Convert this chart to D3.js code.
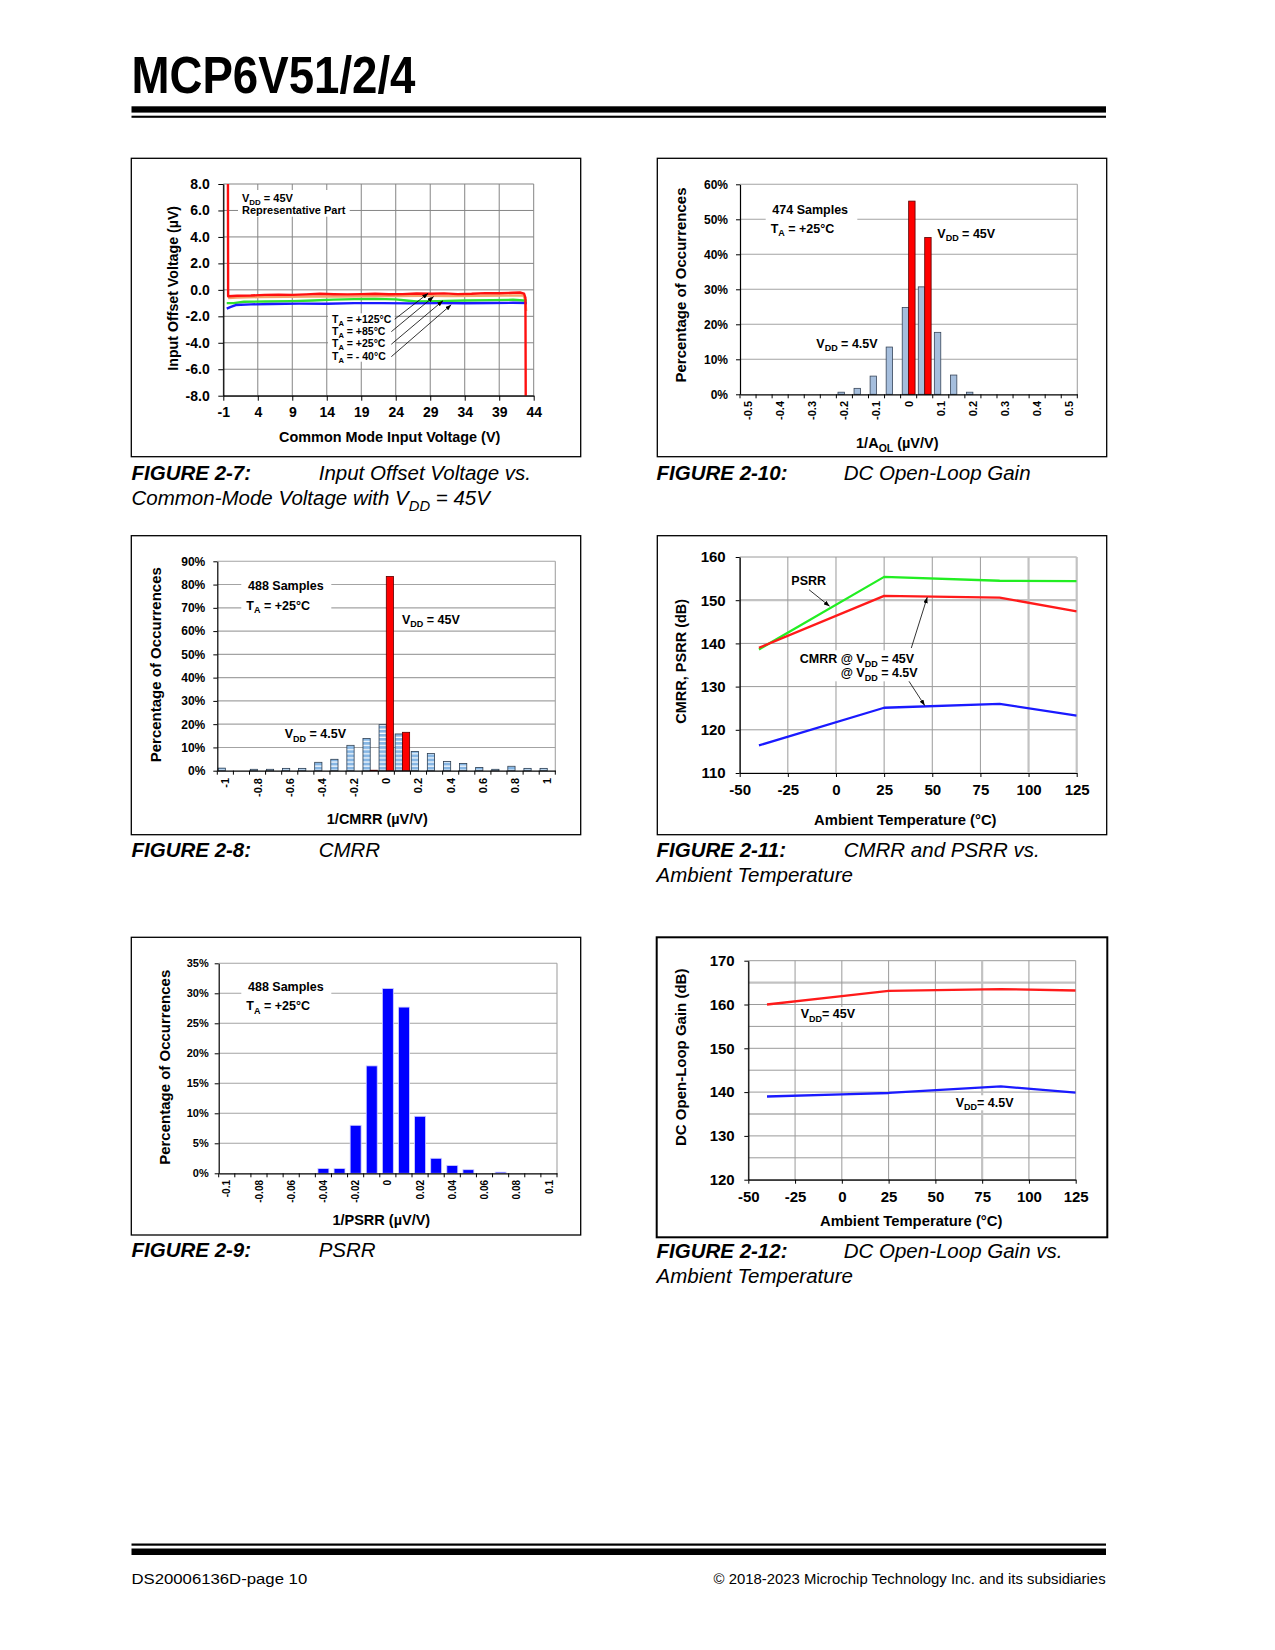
<!DOCTYPE html>
<html><head><meta charset="utf-8">
<script src="https://cdn.jsdelivr.net/npm/d3@7"></script>
<style>body{margin:0;background:#fff}svg{display:block}text{font-family:"Liberation Sans",Arial,sans-serif}</style>
</head><body><svg id="page" width="1275" height="1650"></svg>
<script>
// ================= DATA =================
// Figure 2-7: Input offset voltage vs common mode input voltage  [Vcm (V), Vos (uV)]
const vosXTicks = [-1, 4, 9, 14, 19, 24, 29, 34, 39, 44];
const vosYTicks = [-8, -6, -4, -2, 0, 2, 4, 6, 8];
const vos125 = [[-0.33,9],[-0.3,-0.48],[1,-0.45],[3,-0.43],[5,-0.38],[7,-0.36],[9,-0.38],[11,-0.34],[13,-0.3],[15,-0.33],[17,-0.34],[19,-0.32],[21,-0.3],[23,-0.33],[25,-0.32],[27,-0.28],[29,-0.3],[31,-0.27],[33,-0.32],[35,-0.3],[37,-0.25],[39,-0.26],[41,-0.22],[42,-0.2],[42.6,-0.28],[42.8,-0.6],[42.85,-9]];
const vos85  = [[-0.3,-0.62],[1,-0.58],[4,-0.55],[8,-0.52],[12,-0.5],[16,-0.5],[20,-0.48],[24,-0.46],[28,-0.45],[32,-0.47],[36,-0.45],[40,-0.43],[42.5,-0.42],[42.8,-0.8],[42.9,-1.6]];
const vos25  = [[-0.5,-1.0],[0.5,-1.0],[2,-0.9],[5,-0.88],[9,-0.85],[12,-0.8],[15,-0.74],[18,-0.7],[21,-0.68],[24,-0.72],[25.5,-0.8],[27,-0.88],[30,-0.85],[34,-0.8],[38,-0.78],[41,-0.75],[43,-0.82]];
const vosM40 = [[-0.5,-1.42],[0,-1.3],[0.8,-1.15],[3,-1.1],[6,-1.07],[10,-1.04],[14,-1.05],[18,-1.0],[22,-1.0],[26,-1.02],[30,-1.0],[34,-1.01],[38,-0.99],[41,-0.98],[43,-1.0]];
const vosLabels = ["+125°C", "+85°C", "+25°C", "- 40°C"];
const vosArrowTips = [[28.7,-0.26],[29.5,-0.51],[30.85,-0.82],[32.05,-1.12]];
const vosArrowTails = [[23.85,-2.22],[23.36,-3.16],[23.36,-4.11],[23.36,-5.05]];

// Figure 2-10: DC open-loop gain histogram (1/AOL, uV/V) in %
const aolBins = ["-0.5","-0.45","-0.4","-0.35","-0.3","-0.25","-0.2","-0.15","-0.1","-0.05","0","0.05","0.1","0.15","0.2","0.25","0.3","0.35","0.4","0.45","0.5"];
const aolLabels = ["-0.5","-0.4","-0.3","-0.2","-0.1","0","0.1","0.2","0.3","0.4","0.5"];
const aolVdd4p5 = [0,0,0,0,0,0,0.6,1.7,5.2,13.5,24.8,30.7,17.7,5.5,0.6,0,0,0,0,0,0];
const aolVdd45  = [0,0,0,0,0,0,0,0,0,0,55.2,44.8,0,0,0,0,0,0,0,0,0];
const aolYTicks = [0,10,20,30,40,50,60];

// Figure 2-8: CMRR histogram (1/CMRR, uV/V) in %
const cmrrBins = ["-1","-0.9","-0.8","-0.7","-0.6","-0.5","-0.4","-0.3","-0.2","-0.1","0","0.1","0.2","0.3","0.4","0.5","0.6","0.7","0.8","0.9","1"];
const cmrrLabels = ["-1","-0.8","-0.6","-0.4","-0.2","0","0.2","0.4","0.6","0.8","1"];
const cmrrVdd4p5 = [1.1,0,0.6,0.6,1.0,1.0,3.6,4.9,10.9,13.8,19.8,15.8,8.3,7.4,4.0,3.1,1.4,0.6,1.9,1.0,1.0];
const cmrrVdd45  = [0,0,0,0,0,0,0,0,0,0.2,83.5,16.5,0,0,0,0,0,0,0,0,0];
const cmrrYTicks = [0,10,20,30,40,50,60,70,80,90];

// Figure 2-9: PSRR histogram (1/PSRR, uV/V) in %
const psrrBins = ["-0.1","-0.09","-0.08","-0.07","-0.06","-0.05","-0.04","-0.03","-0.02","-0.01","0","0.01","0.02","0.03","0.04","0.05","0.06","0.07","0.08","0.09","0.1"];
const psrrLabels = ["-0.1","-0.08","-0.06","-0.04","-0.02","0","0.02","0.04","0.06","0.08","0.1"];
const psrrValues = [0,0,0,0,0,0,0.8,0.8,8.0,17.9,30.8,27.7,9.5,2.5,1.3,0.6,0,0.2,0,0,0];
const psrrYTicks = [0,5,10,15,20,25,30,35];

// Figure 2-11: CMRR and PSRR vs ambient temperature (dB)
const rrTemps   = [-40, 25, 85, 125];
const rrPsrr    = [138.6, 155.4, 154.5, 154.4];
const rrCmrr45  = [139.0, 151.0, 150.6, 147.4];
const rrCmrr4p5 = [116.4, 125.1, 126.0, 123.3];
const rrXTicks  = [-50, -25, 0, 25, 50, 75, 100, 125];
const rrYTicks  = [110, 120, 130, 140, 150, 160];

// Figure 2-12: DC open-loop gain vs ambient temperature (dB)
const aolTemps   = [-40, 0, 25, 85, 125];
const aolT45     = [160.0, 161.9, 163.1, 163.5, 163.2];
const aolT4p5    = [139.0, 139.5, 139.8, 141.3, 139.9];
const aolTXTicks = [-50, -25, 0, 25, 50, 75, 100, 125];
const aolTYTicks = [120, 130, 140, 150, 160, 170];
const aolTYGrid  = [120, 125, 130, 135, 140, 145, 150, 155, 160, 165, 170];

// ================= RENDER =================
const FONT = "'Liberation Sans', Arial, sans-serif";
const page = d3.select("#page");
const defs = page.append("defs");
defs.append("marker").attr("id","arrow").attr("viewBox","0 0 8 6").attr("refX",8).attr("refY",3)
  .attr("markerWidth",6).attr("markerHeight",4.5).attr("markerUnits","userSpaceOnUse").attr("orient","auto")
  .append("path").attr("d","M0,0L8,3L0,6Z").attr("fill","#000");
const stripe = defs.append("pattern").attr("id","stripe").attr("width",6).attr("height",4.1)
  .attr("patternUnits","userSpaceOnUse");
stripe.append("rect").attr("width",6).attr("height",4.1).attr("fill","#86b6e4");
stripe.append("rect").attr("y",2.9).attr("width",6).attr("height",1.2).attr("fill","#ffffff");

function rich(g, x, y, parts, o = {}) {
  const size = o.size || 12;
  const t = g.append("text").attr("x", x).attr("y", y)
    .attr("font-size", size).attr("font-weight", o.weight || "bold")
    .attr("font-style", o.style || "normal")
    .attr("text-anchor", o.anchor || "start").attr("fill", "#000").style("font-family", FONT);
  if (o.transform) t.attr("transform", o.transform);
  if (o.len) t.attr("textLength", o.len).attr("lengthAdjust", "spacingAndGlyphs");
  let shifted = false;
  parts.forEach(p => {
    const isSub = typeof p === "object";
    const s = t.append("tspan").text(isSub ? p.sub : p);
    if (isSub) { s.attr("font-size", size * 0.72).attr("dy", size * 0.28); shifted = true; }
    else if (shifted) { s.attr("dy", -size * 0.28); shifted = false; }
  });
  return t;
}
function whiteBox(x, y, w, h) {
  page.append("rect").attr("x", x).attr("y", y).attr("width", w).attr("height", h).attr("fill", "#fff");
}
function frame(b, sw) {
  page.append("rect").attr("x", b.x).attr("y", b.y).attr("width", b.w).attr("height", b.h)
    .attr("fill", "none").attr("stroke", "#000").attr("stroke-width", sw || 1.3);
}
function styleAxis(sel, fs) {
  sel.attr("font-family", null).attr("font-size", null);
  sel.select(".domain").attr("stroke", "#000").attr("stroke-width", 1.2);
  sel.selectAll(".tick line").attr("stroke", "#000").attr("stroke-width", 1);
  sel.selectAll(".tick text").attr("font-size", fs).attr("font-weight", "bold").attr("fill", "#000").style("font-family", FONT);
}
function titles(c) {
  rich(page, c.xt.x, c.xt.y, c.xt.parts, { size: c.xt.size, anchor: "middle" });
  rich(page, 0, 0, c.yt.parts, { size: c.yt.size, anchor: "middle", transform: `translate(${c.yt.x},${c.yt.y}) rotate(-90)` });
}

function lineChart(c) {
  frame(c.box, c.boxW);
  const g = page.append("g");
  const x = d3.scaleLinear().domain(c.xDomain).range([c.p.l, c.p.r]);
  const y = d3.scaleLinear().domain(c.yDomain).range([c.p.b, c.p.t]);
  const yT = c.yThick || [], xT = c.xThick || [];
  g.append("g").selectAll("line").data(c.yGrid).join("line")
    .attr("x1", c.p.l).attr("x2", c.p.r).attr("y1", d => y(d)).attr("y2", d => y(d))
    .attr("stroke", d => yT.includes(d) ? "#c2c2c2" : c.grid).attr("stroke-width", d => yT.includes(d) ? 2.2 : 1);
  g.append("g").selectAll("line").data(c.xGrid).join("line")
    .attr("y1", c.p.t).attr("y2", c.p.b).attr("x1", d => x(d)).attr("x2", d => x(d))
    .attr("stroke", d => xT.includes(d) ? "#c2c2c2" : c.grid).attr("stroke-width", d => xT.includes(d) ? 2.2 : 1);
  const cid = "clip" + c.id;
  defs.append("clipPath").attr("id", cid).append("rect")
    .attr("x", c.p.l).attr("y", c.p.t).attr("width", c.p.r - c.p.l).attr("height", c.p.b - c.p.t);
  const line = d3.line().x(d => x(d[0])).y(d => y(d[1]));
  g.append("g").attr("clip-path", `url(#${cid})`).selectAll("path").data(c.series).join("path")
    .attr("d", s => line(s.data)).attr("fill", "none").attr("stroke", s => s.color)
    .attr("stroke-width", c.lw).attr("stroke-linejoin", "round");
  const fs = c.tickFont, tk = c.tick;
  const xa = d3.axisBottom(x).tickValues(c.xTicks).tickSizeInner(tk).tickSizeOuter(0)
    .tickPadding(c.xLabelBase - c.p.b - tk - 0.71 * fs).tickFormat(c.xFmt || (d => String(d)));
  g.append("g").attr("transform", `translate(0,${c.p.b})`).call(xa).call(styleAxis, fs);
  const ya = d3.axisLeft(y).tickValues(c.yTicks).tickSizeInner(tk).tickSizeOuter(0)
    .tickPadding(c.p.l - c.yLabelRight - tk).tickFormat(c.yFmt || (d => String(d)));
  g.append("g").attr("transform", `translate(${c.p.l},0)`).call(ya).call(styleAxis, fs);
  titles(c);
  return { x, y };
}

function histogram(c) {
  frame(c.box);
  const g = page.append("g");
  const x = d3.scaleBand().domain(c.bins).range([c.p.l, c.p.r]);
  const y = d3.scaleLinear().domain([0, c.yTicks[c.yTicks.length - 1]]).range([c.p.b, c.p.t]);
  g.append("g").selectAll("line").data(c.yTicks.slice(1)).join("line")
    .attr("x1", c.p.l).attr("x2", c.p.r).attr("y1", d => y(d)).attr("y2", d => y(d))
    .attr("stroke", "#a3a3a3").attr("stroke-width", 1.1);
  g.append("line").attr("x1", c.p.r).attr("x2", c.p.r).attr("y1", c.p.t).attr("y2", c.p.b)
    .attr("stroke", "#a3a3a3").attr("stroke-width", 1.1);
  const bw = x.bandwidth();
  const sub = d3.scaleBand().domain(c.series.map(s => s.name)).range(c.subRange.map(f => f * bw));
  c.series.forEach(s => {
    g.append("g").selectAll("rect")
      .data(c.bins.map((b, i) => ({ b, v: s.values[i] })).filter(d => d.v > 0)).join("rect")
      .attr("x", d => x(d.b) + sub(s.name)).attr("width", sub.bandwidth())
      .attr("y", d => y(d.v)).attr("height", d => y(0) - y(d.v))
      .attr("fill", s.fill).attr("stroke", s.stroke || "none").attr("stroke-width", 0.8);
  });
  const ya = d3.axisLeft(y).tickValues(c.yTicks).tickSizeInner(4).tickSizeOuter(0)
    .tickPadding(c.p.l - c.yLabelRight - 4).tickFormat(d => d + "%");
  g.append("g").attr("transform", `translate(${c.p.l},0)`).call(ya).call(styleAxis, c.yFont);
  const xa = d3.axisBottom(x).tickValues(c.labels).tickSize(0).tickFormat(d => d);
  const xg = g.append("g").attr("transform", `translate(0,${c.p.b})`).call(xa).call(styleAxis, c.xFont);
  xg.selectAll(".tick text").attr("y", 0).attr("x", -c.gap).attr("dy", "0.36em")
    .attr("transform", "rotate(-90)").attr("text-anchor", "end");
  const bounds = c.bins.map(b => x(b)).concat([x.range()[1]]);
  g.append("g").selectAll("line").data(bounds).join("line")
    .attr("x1", d => d).attr("x2", d => d).attr("y1", c.p.b).attr("y2", c.p.b + 4)
    .attr("stroke", "#000");
  titles(c);
  return { x, y };
}

// ---- Header ----
rich(page, 131.5, 92.6, ["MCP6V51/2/4"], { size: 51, len: 284 });
page.append("rect").attr("x", 131.5).attr("y", 106.3).attr("width", 974.5).attr("height", 6.3).attr("fill", "#000");
page.append("rect").attr("x", 131.5).attr("y", 115.7).attr("width", 974.5).attr("height", 2.1).attr("fill", "#000");

// ---- Figure 2-7 ----
const f7 = lineChart({
  id: "f7", box: { x: 131.3, y: 158.3, w: 449.4, h: 298.4 },
  p: { l: 223.3, r: 533.7, t: 184, b: 395.7 },
  xDomain: [-1, 44], yDomain: [-8, 8], xTicks: vosXTicks, yTicks: vosYTicks,
  xGrid: vosXTicks, yGrid: vosYTicks, grid: "#858585", lw: 2.4, tick: 5, tickFont: 14,
  xLabelBase: 417.3, yLabelRight: 209.7, yFmt: d => d.toFixed(1),
  series: [
    { color: "#f5a46c", data: vos85 },
    { color: "#2fe02f", data: vos25 },
    { color: "#1a1aff", data: vosM40 },
    { color: "#ff1010", data: vos125 }
  ],
  xt: { x: 389.7, y: 441.7, size: 14.4, parts: ["Common Mode Input Voltage (V)"] },
  yt: { x: 178, y: 288.3, size: 14.2, parts: ["Input Offset Voltage (µV)"] }
});
whiteBox(238, 190, 111.7, 26.7);
rich(page, 242, 201.5, ["V", { sub: "DD" }, " = 45V"], { size: 11 });
rich(page, 242, 214, ["Representative Part"], { size: 11 });
whiteBox(328, 313.3, 66.7, 48.4);
vosLabels.forEach((t, i) => rich(page, 332, 322.7 + i * 12.33, ["T", { sub: "A" }, " = " + t], { size: 10.5 }));
page.append("g").selectAll("line").data(d3.zip(vosArrowTails, vosArrowTips)).join("line")
  .attr("x1", d => f7.x(d[0][0])).attr("y1", d => f7.y(d[0][1]))
  .attr("x2", d => f7.x(d[1][0])).attr("y2", d => f7.y(d[1][1]))
  .attr("stroke", "#000").attr("stroke-width", 0.8).attr("marker-end", "url(#arrow)");

// ---- Figure 2-10 ----
histogram({
  box: { x: 657.3, y: 158.3, w: 449.4, h: 298.4 },
  p: { l: 740, r: 1077.3, t: 184.3, b: 394.3 },
  bins: aolBins, labels: aolLabels, yTicks: aolYTicks, yLabelRight: 728, yFont: 12, xFont: 11, gap: 6.7,
  subRange: [0.1, 0.9],
  series: [
    { name: "4.5", values: aolVdd4p5, fill: "#a5bedd", stroke: "#38465a" },
    { name: "45", values: aolVdd45, fill: "#ff0000", stroke: "#5a0000" }
  ],
  xt: { x: 897.3, y: 448.3, size: 14.5, parts: ["1/A", { sub: "OL" }, " (µV/V)"] },
  yt: { x: 686.3, y: 285, size: 15, parts: ["Percentage of Occurrences"] }
});
whiteBox(765.7, 201.7, 91.6, 38.3);
rich(page, 772.3, 213.7, ["474 Samples"], { size: 12.5 });
rich(page, 770.7, 232.7, ["T", { sub: "A" }, " = +25°C"], { size: 12.5 });
rich(page, 937.3, 237.7, ["V", { sub: "DD" }, " = 45V"], { size: 12.5 });
rich(page, 816.3, 347.7, ["V", { sub: "DD" }, " = 4.5V"], { size: 12.5 });

// ---- Figure 2-8 ----
histogram({
  box: { x: 131.3, y: 535.7, w: 449.4, h: 299 },
  p: { l: 217.3, r: 555.3, t: 561.3, b: 770.7 },
  bins: cmrrBins, labels: cmrrLabels, yTicks: cmrrYTicks, yLabelRight: 205.3, yFont: 12, xFont: 11, gap: 7.3,
  subRange: [0.05, 0.95],
  series: [
    { name: "4.5", values: cmrrVdd4p5, fill: "url(#stripe)", stroke: "#2c3e52" },
    { name: "45", values: cmrrVdd45, fill: "#ff0000", stroke: "#5a0000" }
  ],
  xt: { x: 377.3, y: 823.7, size: 14.5, parts: ["1/CMRR (µV/V)"] },
  yt: { x: 161.3, y: 664.7, size: 15, parts: ["Percentage of Occurrences"] }
});
whiteBox(241.3, 578, 90, 36.7);
rich(page, 248, 590.3, ["488 Samples"], { size: 12.5 });
rich(page, 246.3, 609.7, ["T", { sub: "A" }, " = +25°C"], { size: 12.5 });
rich(page, 402, 623.7, ["V", { sub: "DD" }, " = 45V"], { size: 12.5 });
rich(page, 284.7, 738, ["V", { sub: "DD" }, " = 4.5V"], { size: 12.5 });

// ---- Figure 2-11 ----
const f11 = lineChart({
  id: "f11", box: { x: 657.3, y: 535.7, w: 449.4, h: 299 },
  p: { l: 739.7, r: 1076.7, t: 557, b: 773 },
  xDomain: [-50, 125], yDomain: [110, 160], xTicks: rrXTicks, yTicks: rrYTicks,
  xGrid: rrXTicks, yGrid: rrYTicks, yThick: [150], xThick: [100, 125], grid: "#9a9a9a",
  lw: 2.3, tick: 4, tickFont: 15, xLabelBase: 795.3, yLabelRight: 725.7,
  series: [
    { color: "#22ee22", data: d3.zip(rrTemps, rrPsrr) },
    { color: "#ff1a1a", data: d3.zip(rrTemps, rrCmrr45) },
    { color: "#1a1aff", data: d3.zip(rrTemps, rrCmrr4p5) }
  ],
  xt: { x: 905.3, y: 824.7, size: 14.8, parts: ["Ambient Temperature (°C)"] },
  yt: { x: 686.3, y: 661.3, size: 14.5, parts: ["CMRR,  PSRR (dB)"] }
});
whiteBox(789, 573, 38.3, 15);
rich(page, 791.3, 584.7, ["PSRR"], { size: 12.5 });
whiteBox(797.3, 650.3, 123.4, 31);
rich(page, 799.7, 663, ["CMRR @ V", { sub: "DD" }, " = 45V"], { size: 12.5 });
rich(page, 840.7, 677, ["@ V", { sub: "DD" }, " = 4.5V"], { size: 12.5 });
const rrArrows = [
  { from: [809, 589.7], tip: [-3.3, 148.6] },
  { from: [911.3, 648], tip: [47.4, 150.7] },
  { from: [909, 681.3], tip: [46.1, 125.6] }
];
page.append("g").selectAll("line").data(rrArrows).join("line")
  .attr("x1", d => d.from[0]).attr("y1", d => d.from[1])
  .attr("x2", d => f11.x(d.tip[0])).attr("y2", d => f11.y(d.tip[1]))
  .attr("stroke", "#000").attr("stroke-width", 0.8).attr("marker-end", "url(#arrow)");

// ---- Figure 2-9 ----
histogram({
  box: { x: 131.3, y: 937.3, w: 449.4, h: 297.7 },
  p: { l: 218.7, r: 557, t: 963.3, b: 1173.3 },
  bins: psrrBins, labels: psrrLabels, yTicks: psrrYTicks, yLabelRight: 208.7, yFont: 11, xFont: 10, gap: 6.7,
  subRange: [0.16, 0.84],
  series: [{ name: "psrr", values: psrrValues, fill: "#0000ff", stroke: "#d0d0ff" }],
  xt: { x: 381.3, y: 1224.7, size: 14.5, parts: ["1/PSRR (µV/V)"] },
  yt: { x: 169.7, y: 1067.3, size: 15, parts: ["Percentage of Occurrences"] }
});
whiteBox(241.3, 980, 90, 35);
rich(page, 248, 990.7, ["488 Samples"], { size: 12.5 });
rich(page, 246.3, 1010, ["T", { sub: "A" }, " = +25°C"], { size: 12.5 });

// ---- Figure 2-12 ----
lineChart({
  id: "f12", box: { x: 656.7, y: 937.3, w: 450.6, h: 300 }, boxW: 2,
  p: { l: 748.3, r: 1075.7, t: 960.7, b: 1179.7 },
  xDomain: [-50, 125], yDomain: [120, 170], xTicks: aolTXTicks, yTicks: aolTYTicks,
  xGrid: aolTXTicks, yGrid: aolTYGrid, yThick: [165, 135], xThick: [75], grid: "#9a9a9a",
  lw: 2.3, tick: 4, tickFont: 15, xLabelBase: 1202.3, yLabelRight: 734.7,
  series: [
    { color: "#ff1a1a", data: d3.zip(aolTemps, aolT45) },
    { color: "#1a1aff", data: d3.zip(aolTemps, aolT4p5) }
  ],
  xt: { x: 911.2, y: 1226.3, size: 14.8, parts: ["Ambient Temperature (°C)"] },
  yt: { x: 686.3, y: 1057.3, size: 15, parts: ["DC Open-Loop Gain (dB)"] }
});
whiteBox(797.3, 1007, 58.4, 15);
rich(page, 800.7, 1018.3, ["V", { sub: "DD" }, "= 45V"], { size: 12.5 });
whiteBox(952.3, 1095.3, 63, 15);
rich(page, 955.7, 1106.7, ["V", { sub: "DD" }, "= 4.5V"], { size: 12.5 });

// ---- Captions ----
const captions = [
  { x: 131.5, y: 480, fig: "FIGURE 2-7:", text: "Input Offset Voltage vs.", line2: ["Common-Mode Voltage with V", { sub: "DD" }, " = 45V"] },
  { x: 656.5, y: 480, fig: "FIGURE 2-10:", text: "DC Open-Loop Gain" },
  { x: 131.5, y: 857, fig: "FIGURE 2-8:", text: "CMRR" },
  { x: 656.5, y: 857, fig: "FIGURE 2-11:", text: "CMRR and PSRR vs.", line2: ["Ambient Temperature"] },
  { x: 131.5, y: 1257, fig: "FIGURE 2-9:", text: "PSRR" },
  { x: 656.5, y: 1258, fig: "FIGURE 2-12:", text: "DC Open-Loop Gain vs.", line2: ["Ambient Temperature"] }
];
captions.forEach(c => {
  rich(page, c.x, c.y, [c.fig], { size: 20.5, weight: "bold", style: "italic" });
  rich(page, c.x + 187.2, c.y, [c.text], { size: 20.5, weight: "normal", style: "italic" });
  if (c.line2) rich(page, c.x, c.y + 25, c.line2, { size: 20.5, weight: "normal", style: "italic" });
});

// ---- Footer ----
page.append("rect").attr("x", 131.5).attr("y", 1543.5).attr("width", 974.5).attr("height", 2.2).attr("fill", "#000");
page.append("rect").attr("x", 131.5).attr("y", 1548.5).attr("width", 974.5).attr("height", 6.5).attr("fill", "#000");
rich(page, 131.5, 1584, ["DS20006136D-page 10"], { size: 15.5, weight: "normal", len: 175.7 });
rich(page, 1105.6, 1584, ["© 2018-2023 Microchip Technology Inc. and its subsidiaries"], { size: 15.5, weight: "normal", anchor: "end", len: 392 });
</script></body></html>
